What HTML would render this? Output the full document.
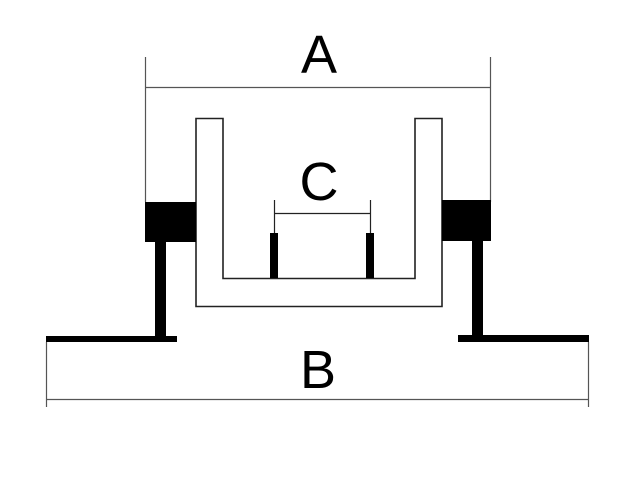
<!DOCTYPE html>
<html><head><meta charset="utf-8"><style>
html,body{margin:0;padding:0;background:#fff;}
svg{display:block}
text{font-family:"Liberation Sans",sans-serif;fill:#000}
</style></head><body>
<svg width="640" height="485" viewBox="0 0 640 485" xmlns="http://www.w3.org/2000/svg">
<rect width="640" height="485" fill="#fff"/>
<!-- A dimension -->
<g stroke="#555" stroke-width="1.2" fill="none">
<line x1="145.5" y1="57" x2="145.5" y2="202"/>
<line x1="490.5" y1="57" x2="490.5" y2="202"/>
<line x1="145" y1="87.5" x2="491" y2="87.5"/>
<!-- B dimension -->
<line x1="46.5" y1="342" x2="46.5" y2="407"/>
<line x1="588.5" y1="342" x2="588.5" y2="407"/>
<line x1="46" y1="399.5" x2="589" y2="399.5"/>
</g>
<!-- C dimension -->
<g stroke="#222" stroke-width="1.2">
<line x1="274.5" y1="200" x2="274.5" y2="233"/>
<line x1="370.5" y1="200" x2="370.5" y2="233"/>
<line x1="274" y1="213.5" x2="371" y2="213.5"/>
</g>
<!-- channel -->
<path d="M196 118.5 H223 V278.5 H415 V118.5 H442 V306.5 H196 Z" fill="none" stroke="#222" stroke-width="1.6"/>
<!-- pins -->
<rect x="270" y="233" width="8" height="45" fill="#000"/>
<rect x="366" y="233" width="8" height="45" fill="#000"/>
<!-- left block -->
<rect x="145" y="202" width="51" height="40" fill="#000"/>
<rect x="155" y="242" width="11" height="96" fill="#000"/>
<rect x="46" y="336" width="131" height="6" fill="#000"/>
<!-- right block -->
<rect x="442" y="200" width="49" height="41" fill="#000"/>
<rect x="472" y="241" width="11" height="96" fill="#000"/>
<rect x="458" y="335" width="131" height="7" fill="#000"/>
<!-- labels -->
<text x="319" y="73" font-size="54" text-anchor="middle">A</text>
<text x="319" y="200" font-size="54" text-anchor="middle">C</text>
<text x="318" y="388" font-size="54" text-anchor="middle">B</text>
</svg>
</body></html>
